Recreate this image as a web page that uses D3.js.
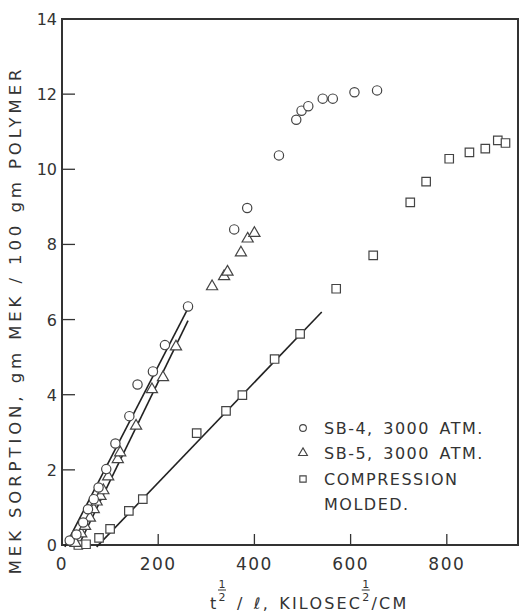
<!DOCTYPE html>
<html>
<head>
<meta charset="utf-8">
<script src="https://cdn.jsdelivr.net/npm/d3@7"></script>
<style>
  body { margin: 0; background: #fff; }
  text { font-family: "DejaVu Sans", sans-serif; fill: #333; }
</style>
</head>
<body>
<div id="chart"></div>
<script>
// figure size
var width = 521
var height = 613

// data
var sb4 = [[16,0.12],[30,0.28],[44,0.6],[54,0.95],[66,1.22],[76,1.53],[92,2.02],[111,2.7],
  [140,3.43],[157,4.27],[189,4.62],[214,5.32],[262,6.35],[358,8.4],[385,8.97],[451,10.37],
  [487,11.32],[498,11.56],[512,11.68],[542,11.88],[563,11.88],[608,12.05],[655,12.1]]
var sb5 = [[28,0.05],[40,0.3],[48,0.5],[58,0.72],[66,0.95],[72,1.15],[80,1.3],[86,1.45],
  [96,1.82],[116,2.28],[121,2.46],[154,3.17],[187,4.14],[210,4.46],[237,5.28],[312,6.88],
  [337,7.15],[344,7.27],[372,7.78],[386,8.15],[400,8.3]]
var molded = [[34,0.0],[50,0.02],[77,0.19],[100,0.43],[139,0.91],[168,1.22],[280,2.98],
  [341,3.57],[375,3.99],[442,4.95],[495,5.62],[570,6.82],[647,7.71],[724,9.12],[757,9.67],
  [805,10.28],[847,10.45],[880,10.55],[906,10.77],[922,10.7]]
// straight fits drawn through the early points
var fitSB4 = [[6,-0.05],[266,6.4]]
var fitSB5 = [[32,-0.08],[262,5.97]]
var fitMolded = [[72,-0.05],[540,6.2]]

var xTicks = [200, 400, 600, 800]
var yTicks = [2, 4, 6, 8, 10, 12]
var legendLabels = ["SB-4, 3000 ATM.", "SB-5, 3000 ATM.", "COMPRESSION"]

var svg = d3.select("#chart")
    .append("svg")
    .attr("width", width)
    .attr("height", height)

var x = d3.scaleLinear().domain([0, 948]).range([62, 518])
var y = d3.scaleLinear().domain([0, 14]).range([545, 19])

var ink = "#333"

// frame
svg.append("rect")
    .attr("x", x(0)).attr("y", y(14))
    .attr("width", x(948) - x(0)).attr("height", y(0) - y(14))
    .attr("fill", "none").attr("stroke", ink).attr("stroke-width", 2)

// inward ticks
svg.append("g").selectAll("line").data(xTicks).enter().append("line")
    .attr("x1", d => x(d)).attr("x2", d => x(d))
    .attr("y1", y(0)).attr("y2", y(0) - 11)
    .attr("stroke", ink).attr("stroke-width", 1.3)
svg.append("g").selectAll("line").data(yTicks).enter().append("line")
    .attr("x1", x(0)).attr("x2", x(0) + 13)
    .attr("y1", d => y(d)).attr("y2", d => y(d))
    .attr("stroke", ink).attr("stroke-width", 1.3)

// tick labels
svg.append("g").selectAll("text").data([0].concat(xTicks)).enter().append("text")
    .attr("x", d => x(d)).attr("y", 570)
    .attr("text-anchor", "middle")
    .style("font-size", "17px").style("letter-spacing", "1.5px")
    .text(d => d)
svg.append("g").selectAll("text").data([0].concat(yTicks, [14])).enter().append("text")
    .attr("x", 57).attr("y", d => y(d) + 6)
    .attr("text-anchor", "end")
    .style("font-size", "16px")
    .text(d => d)

// y title
svg.append("text")
    .attr("transform", "translate(21," + 320 + ") rotate(-90)")
    .attr("text-anchor", "middle")
    .style("font-size", "16.5px").style("letter-spacing", "3.9px")
    .text("MEK SORPTION, gm MEK / 100 gm POLYMER")

// x title with the 1/2 exponents
var xt = svg.append("text")
    .attr("x", 210).attr("y", 609)
    .style("font-size", "16px").style("letter-spacing", "2.2px")
    .style("word-spacing", "2px")
xt.append("tspan").text("t")
xt.append("tspan").attr("class", "half").attr("dy", -8).style("font-size", "11px").text("2")
xt.append("tspan").attr("dy", 8).text(" / ℓ, KILOSEC")
xt.append("tspan").attr("class", "half").attr("dy", -8).style("font-size", "11px").text("2")
xt.append("tspan").attr("dy", 8).text("/CM")
xt.selectAll("tspan.half").each(function() {
    var b = this.getBBox()
    var cx = b.x + b.width / 2 - 1.1
    svg.append("line")
        .attr("x1", cx - 4).attr("x2", cx + 4)
        .attr("y1", b.y - 1).attr("y2", b.y - 1)
        .attr("stroke", ink).attr("stroke-width", 1)
    svg.append("text")
        .attr("x", cx).attr("y", b.y - 3)
        .attr("text-anchor", "middle")
        .style("font-size", "11px")
        .text("1")
})

// fitted lines
var line = d3.line().x(d => x(d[0])).y(d => y(d[1]))
svg.append("g").selectAll("path").data([fitSB4, fitSB5, fitMolded]).enter().append("path")
    .attr("d", line)
    .attr("fill", "none").attr("stroke", "#222").attr("stroke-width", 1.6)

// markers
var circ = d3.symbol().type(d3.symbolCircle).size(68)
var tri = d3.symbol().type(d3.symbolTriangle).size(54)
var sq = d3.symbol().type(d3.symbolSquare).size(72)

function drawSeries(data, sym) {
    svg.append("g").selectAll("path").data(data).enter().append("path")
        .attr("d", sym)
        .attr("transform", d => "translate(" + x(d[0]) + "," + y(d[1]) + ")")
        .attr("fill", "#fff").attr("stroke", "#444").attr("stroke-width", 1.2)
}
drawSeries(molded, sq)
drawSeries(sb5, tri)
drawSeries(sb4, circ)

// legend
var legSyms = [d3.symbol().type(d3.symbolCircle).size(36),
    d3.symbol().type(d3.symbolTriangle).size(34),
    d3.symbol().type(d3.symbolSquare).size(40)]
var legRows = [428, 453, 479]
legendLabels.forEach(function(label, i) {
    svg.append("path")
        .attr("d", legSyms[i])
        .attr("transform", "translate(303," + legRows[i] + ")")
        .attr("fill", "#fff").attr("stroke", "#444").attr("stroke-width", 1.1)
    svg.append("text")
        .attr("x", 324).attr("y", legRows[i] + 6)
        .style("font-size", "16px").style("letter-spacing", "1.5px")
        .style("word-spacing", "3px")
        .text(label)
})
svg.append("text")
    .attr("x", 324).attr("y", 510)
    .style("font-size", "16px").style("letter-spacing", "1.5px")
    .text("MOLDED.")
</script>
</body>
</html>
